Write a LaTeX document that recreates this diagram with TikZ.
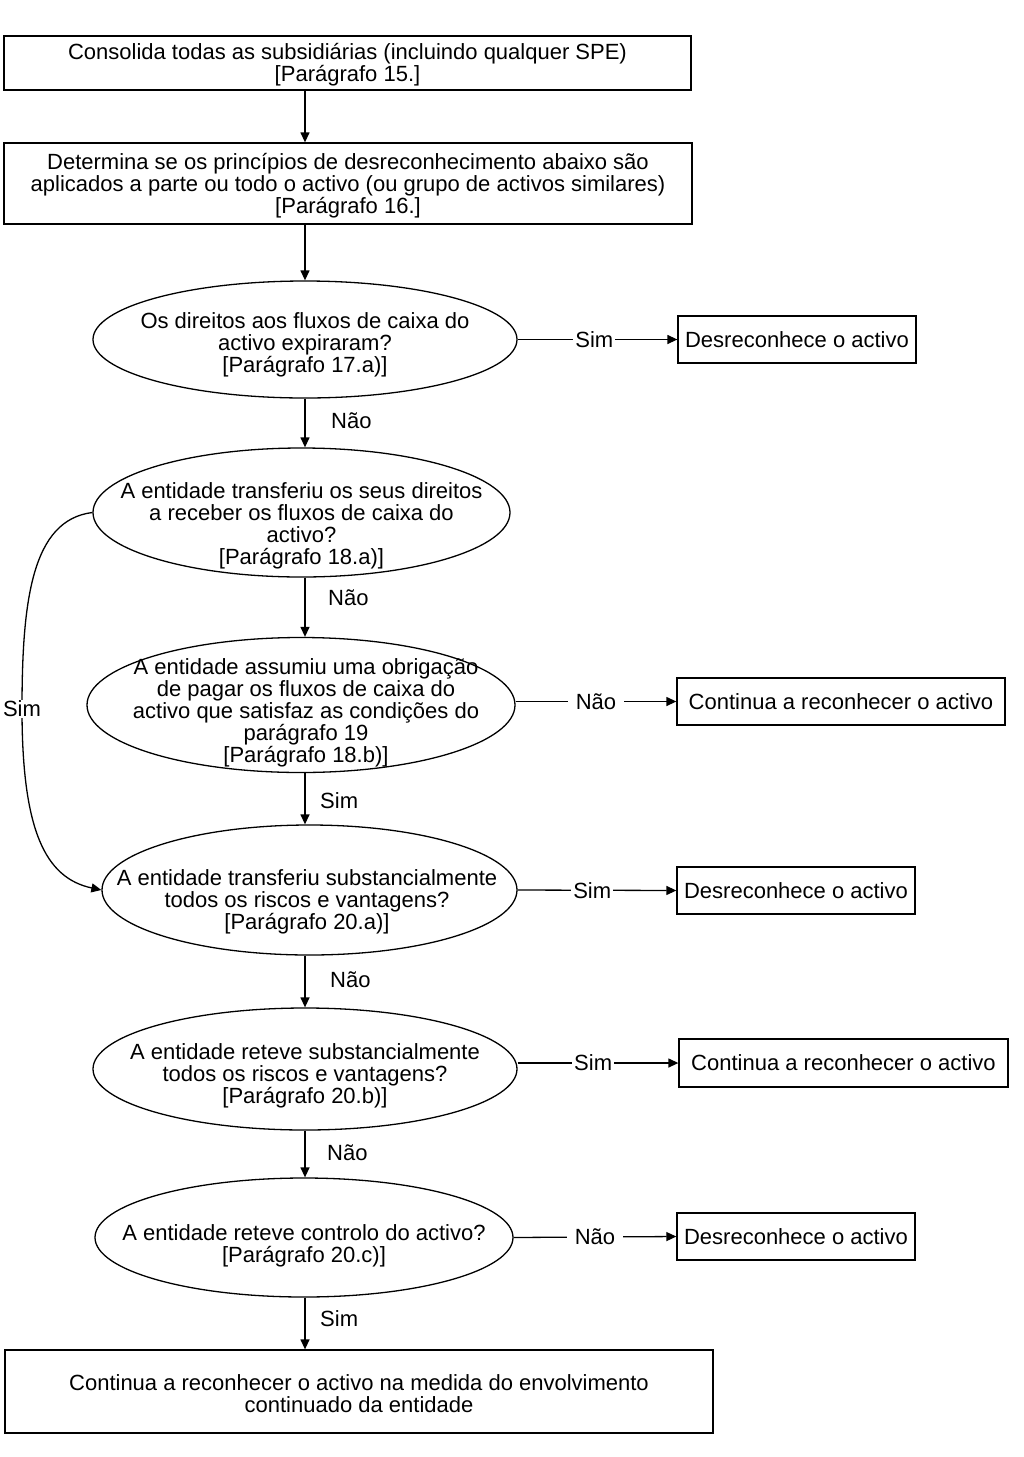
\documentclass[tikz,border=0pt]{standalone}
\usepackage{fontspec}
\setmainfont{Liberation Sans}
\usetikzlibrary{arrows.meta,shapes.geometric}
\begin{document}
\begin{tikzpicture}[x=1pt,y=-1pt,
  every node/.style={font=\fontsize{22}{22}\selectfont, align=center},
  box/.style={draw, line width=1.3pt, inner sep=0pt},
  ell/.style={draw, ellipse, line width=1.3pt, inner sep=0pt},
  txt/.style={inner sep=0pt},
  conn/.style={line width=1.3pt, -{Triangle[length=10pt,width=9pt]}},
  lab/.style={fill=white, inner xsep=2pt, inner ysep=1pt},
  labn/.style={fill=white, inner xsep=8pt, inner ysep=1pt},
  vlab/.style={anchor=west, inner sep=0pt}]
\useasboundingbox (0,0) rectangle (1024,1457);
\fill[white] (0,0) rectangle (1024,1457);
\coordinate (col) at (305,0);
% boxes
\node[box, minimum width=687pt, minimum height=54pt] (b1) at (347.5,63) {};
\node[txt] (tb1) at (347.5,64.5) {Consolida todas as subsidiárias (incluindo qualquer SPE)\\{[}Parágrafo 15.{]}};
\node[box, minimum width=688pt, minimum height=81pt] (b2) at (348,183.5) {};
\node[txt] (tb2) at (348,186) {Determina se os princípios de desreconhecimento abaixo são\\aplicados a parte ou todo o activo (ou grupo de activos similares)\\{[}Parágrafo 16.{]}};
% ellipses
\node[ell, minimum width=424pt, minimum height=117pt] (e1) at (305,339.5) {};
\node[txt] (t1) at (305,345) {Os direitos aos fluxos de caixa do\\activo expiraram?\\{[}Parágrafo 17.a){]}};
\node[ell, minimum width=417pt, minimum height=129pt] (e2) at (301.5,512.5) {};
\node[txt] (t2) at (301.5,525.5) {A entidade transferiu os seus direitos\\a receber os fluxos de caixa do\\activo?\\{[}Parágrafo 18.a){]}};
\node[ell, minimum width=428pt, minimum height=135pt] (e3) at (301,705) {};
\node[txt] (t3) at (306,712.5) {A entidade assumiu uma obrigação\\de pagar os fluxos de caixa do\\activo que satisfaz as condições do\\parágrafo 19\\{[}Parágrafo 18.b){]}};
\node[ell, minimum width=415pt, minimum height=130pt] (e4) at (309.5,890) {};
\node[txt] (t4) at (307,901.5) {A entidade transferiu substancialmente\\todos os riscos e vantagens?\\{[}Parágrafo 20.a){]}};
\node[ell, minimum width=424pt, minimum height=122pt] (e5) at (305,1069) {};
\node[txt] (t5) at (305,1075.5) {A entidade reteve substancialmente\\todos os riscos e vantagens?\\{[}Parágrafo 20.b){]}};
\node[ell, minimum width=418pt, minimum height=119pt] (e6) at (304,1237.5) {};
\node[txt] (t6) at (304,1245.5) {A entidade reteve controlo do activo?\\{[}Parágrafo 20.c){]}};
\node[box, minimum width=708pt, minimum height=83pt] (f) at (359,1391.5) {};
\node[txt] (tf) at (359,1394) {Continua a reconhecer o activo na medida do envolvimento\\continuado da entidade};
% side boxes
\node[box, minimum width=238pt, minimum height=47pt] (d1) at (797,339.5) {Desreconhece o activo};
\node[box, minimum width=328pt, minimum height=47pt] (c1) at (841,701.5) {Continua a reconhecer o activo};
\node[box, minimum width=238pt, minimum height=47pt] (d2) at (796,890.5) {Desreconhece o activo};
\node[box, minimum width=329pt, minimum height=48pt] (c2) at (843.5,1063) {Continua a reconhecer o activo};
\node[box, minimum width=238pt, minimum height=47pt] (d3) at (796,1236.5) {Desreconhece o activo};
% vertical connectors
\draw[conn] (b1.south -| col) -- (b2.north -| col);
\draw[conn] (b2.south -| col) -- (e1.north -| col);
\draw[conn] (e1.south -| col) -- (e2.north -| col);
\draw[conn] (e2.south -| col) -- (e3.north -| col);
\draw[conn] (e3.south -| col) -- (e4.north -| col);
\draw[conn] (e4.south -| col) -- (e5.north -| col);
\draw[conn] (e5.south -| col) -- (e6.north -| col);
\draw[conn] (e6.south -| col) -- (f.north -| col);
\node[vlab] (l1) at (331,421) {Não};
\node[vlab] (l2) at (328,598) {Não};
\node[vlab] (l3) at (320,801) {Sim};
\node[vlab] (l4) at (330,980) {Não};
\node[vlab] (l5) at (327,1153) {Não};
\node[vlab] (l6) at (320,1319) {Sim};
% horizontal connectors
\draw[conn] (e1.east) -- node[lab, pos=0.48] (h1) {Sim} (d1.west);
\draw[conn] (e3.east |- c1.west) -- node[labn, pos=0.5] (h2) {Não} (c1.west);
\draw[conn] (e4.east) -- node[lab, pos=0.47] (h3) {Sim} (d2.west);
\draw[conn] (e5.east |- c2.west) -- node[lab, pos=0.47] (h4) {Sim} (c2.west);
\draw[conn] (e6.east) -- node[labn, pos=0.5] (h5) {Não} (d3.west);
% left curved connector
\draw[conn] (e2.west) .. controls (32,520) and (22,600) .. (22,709) node[lab] (h6) {Sim} .. controls (22,830) and (45,878) .. (e4.west);
\end{tikzpicture}
\end{document}
